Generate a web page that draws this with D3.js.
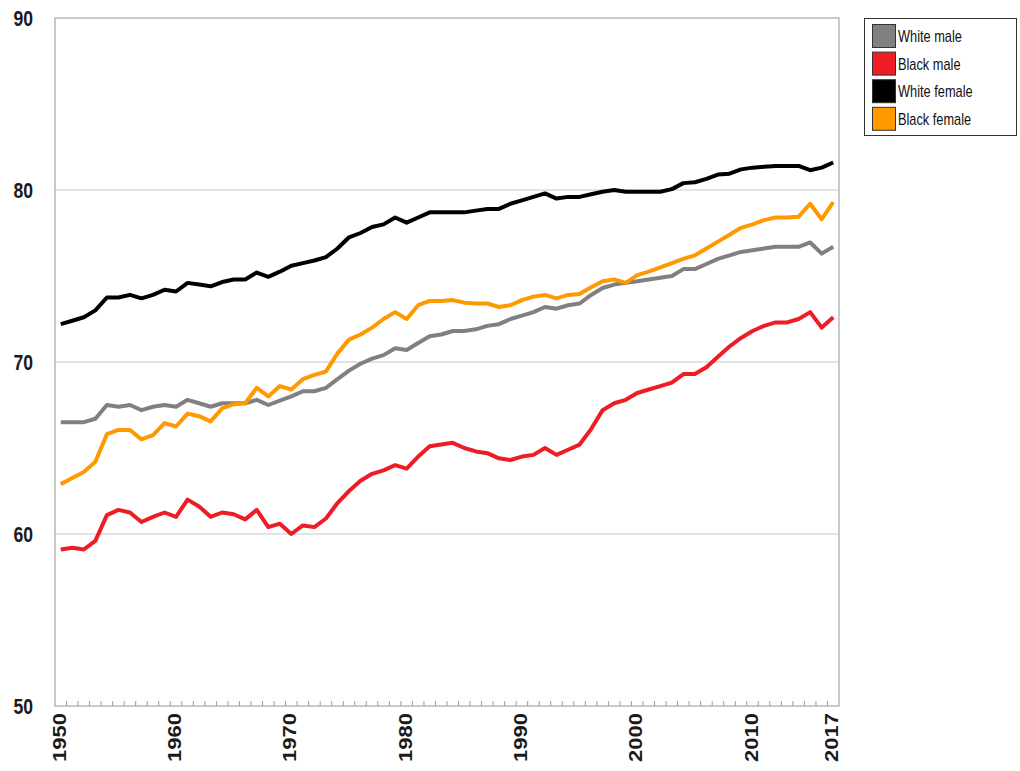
<!DOCTYPE html>
<html>
<head>
<meta charset="utf-8">
<script src="https://cdn.jsdelivr.net/npm/d3@7"></script>
<style>
  html, body { margin: 0; padding: 0; background: #fff; }
  svg { display: block; }
  text { font-family: "Liberation Sans", Arial, sans-serif; }
</style>
</head>
<body>
<svg id="chart" width="1020" height="771"></svg>
<script>
// ---- data ----
const years = d3.range(1950, 2018);
const whiteMale = [
  66.5, 66.5, 66.5, 66.7, 67.5, 67.4, 67.5, 67.2, 67.4, 67.5,
  67.4, 67.8, 67.6, 67.4, 67.6, 67.6, 67.6, 67.8, 67.5, 67.75,
  68.0, 68.3, 68.3, 68.5, 69.0, 69.5, 69.9, 70.2, 70.4, 70.8,
  70.7, 71.1, 71.5, 71.6, 71.8, 71.8, 71.9, 72.1, 72.2, 72.5,
  72.7, 72.9, 73.2, 73.1, 73.3, 73.4, 73.9, 74.3, 74.5, 74.6,
  74.7, 74.8, 74.9, 75.0, 75.4, 75.4, 75.7, 76.0, 76.2, 76.4,
  76.5, 76.6, 76.7, 76.7, 76.7, 76.95, 76.3, 76.7
];
const blackMale = [
  59.1, 59.2, 59.1, 59.6, 61.1, 61.4, 61.25, 60.7, 61.0, 61.25,
  61.0, 62.0, 61.6, 61.0, 61.25, 61.15, 60.85, 61.4, 60.4, 60.6,
  60.0, 60.5, 60.4, 60.9, 61.8, 62.5, 63.1, 63.5, 63.7, 64.0,
  63.8, 64.5, 65.1, 65.2, 65.3, 65.0, 64.8, 64.7, 64.4, 64.3,
  64.5, 64.6, 65.0, 64.6, 64.9, 65.2, 66.1, 67.2, 67.6, 67.8,
  68.2, 68.4, 68.6, 68.8, 69.3, 69.3, 69.7, 70.3, 70.9, 71.4,
  71.8, 72.1, 72.3, 72.3, 72.5, 72.9, 72.0, 72.6
];
const whiteFemale = [
  72.2, 72.4, 72.6, 73.0, 73.75, 73.75, 73.9, 73.7, 73.9, 74.2,
  74.1, 74.6, 74.5, 74.4, 74.65, 74.8, 74.8, 75.2, 74.95, 75.25,
  75.6, 75.75, 75.9, 76.1, 76.6, 77.25, 77.5, 77.85, 78.0, 78.4,
  78.1, 78.4, 78.7, 78.7, 78.7, 78.7, 78.8, 78.9, 78.9, 79.2,
  79.4, 79.6, 79.8, 79.5, 79.6, 79.6, 79.75, 79.9, 80.0, 79.9,
  79.9, 79.9, 79.9, 80.05, 80.4, 80.45, 80.65, 80.9, 80.95, 81.2,
  81.3, 81.35, 81.4, 81.4, 81.4, 81.15, 81.3, 81.6
];
const blackFemale = [
  62.9, 63.25, 63.6, 64.2, 65.8, 66.05, 66.05, 65.5, 65.75, 66.45,
  66.25, 67.0, 66.85, 66.55, 67.3, 67.55, 67.6, 68.5, 68.0, 68.6,
  68.4, 69.0, 69.25, 69.45, 70.5, 71.3, 71.6, 72.0, 72.5, 72.9,
  72.5, 73.3, 73.55, 73.55, 73.6, 73.45, 73.4, 73.4, 73.2, 73.3,
  73.6, 73.8, 73.9, 73.7, 73.9, 73.95, 74.35, 74.7, 74.8, 74.6,
  75.05, 75.25, 75.5, 75.75, 76.0, 76.2, 76.6, 77.0, 77.4, 77.8,
  78.0, 78.25, 78.4, 78.4, 78.45, 79.2, 78.3, 79.3
];
const seriesNames = ["White male", "Black male", "White female", "Black female"];
const seriesColors = ["#808080", "#ee1c25", "#000000", "#ff9900"];
const yTicks = [50, 60, 70, 80, 90];
const xTickLabels = [1950, 1960, 1970, 1980, 1990, 2000, 2010, 2017];

const series = [whiteMale, blackMale, whiteFemale, blackFemale];

// ---- layout ----
const svg = d3.select("#chart");
const plot = { left: 55, right: 839, top: 18, bottom: 706 };
const x = d3.scaleBand().domain(years).range([plot.left, plot.right]).paddingInner(0).paddingOuter(0);
const y = d3.scaleLinear().domain([50, 90]).range([plot.bottom, plot.top]);
const cx = d => x(d) + x.bandwidth() / 2;
const squeeze = 0.8;

// grid lines
svg.append("g").selectAll("line").data(yTicks.filter(t => t > 50 && t < 90)).join("line")
  .attr("x1", plot.left).attr("x2", plot.right)
  .attr("y1", d => y(d)).attr("y2", d => y(d))
  .attr("stroke", "#c8c8c8").attr("stroke-width", 1.2);

// frame
svg.append("rect")
  .attr("x", plot.left).attr("y", plot.top)
  .attr("width", plot.right - plot.left).attr("height", plot.bottom - plot.top)
  .attr("fill", "none").attr("stroke", "#a6a6a6").attr("stroke-width", 1.2);

// minor ticks between years (band boundaries)
svg.append("g").selectAll("line").data(years.slice(1)).join("line")
  .attr("x1", d => x(d)).attr("x2", d => x(d))
  .attr("y1", plot.bottom).attr("y2", plot.bottom - 5)
  .attr("stroke", "#9a9a9a").attr("stroke-width", 1);

// y labels
svg.append("g").selectAll("text").data(yTicks).join("text")
  .attr("transform", d => `translate(33,${y(d) + 8}) scale(${squeeze},1)`)
  .attr("text-anchor", "end")
  .attr("font-size", 22).attr("font-weight", "bold").attr("fill", "#1a1a1a")
  .text(d => d);

// x labels (rotated)
svg.append("g").selectAll("text").data(xTickLabels).join("text")
  .attr("transform", d => `translate(${cx(d) + 5},713) scale(${squeeze},1) rotate(-90)`)
  .attr("text-anchor", "end")
  .attr("font-size", 22).attr("font-weight", "bold").attr("fill", "#1a1a1a")
  .text(d => d);

// lines
const line = d3.line().x((d, i) => cx(years[i])).y(d => y(d)).curve(d3.curveLinear);
svg.append("g").selectAll("path").data(series).join("path")
  .attr("d", d => line(d))
  .attr("fill", "none")
  .attr("stroke", (d, i) => seriesColors[i])
  .attr("stroke-width", 4)
  .attr("stroke-linejoin", "round");

// legend
const lg = svg.append("g");
lg.append("rect").attr("x", 864.5).attr("y", 18.5).attr("width", 152).attr("height", 117)
  .attr("fill", "#fff").attr("stroke", "#333").attr("stroke-width", 1);
const rows = lg.selectAll("g").data(seriesNames).join("g")
  .attr("transform", (d, i) => `translate(0,${24.5 + i * 27.6})`);
rows.append("rect").attr("x", 872.5).attr("y", 0).attr("width", 23).attr("height", 23)
  .attr("fill", (d, i) => seriesColors[i]).attr("stroke", "#333").attr("stroke-width", 1);
rows.append("text")
  .attr("transform", `translate(898,17.5) scale(${squeeze},1)`)
  .attr("font-size", 16).attr("fill", "#111")
  .text(d => d);
</script>
</body>
</html>
